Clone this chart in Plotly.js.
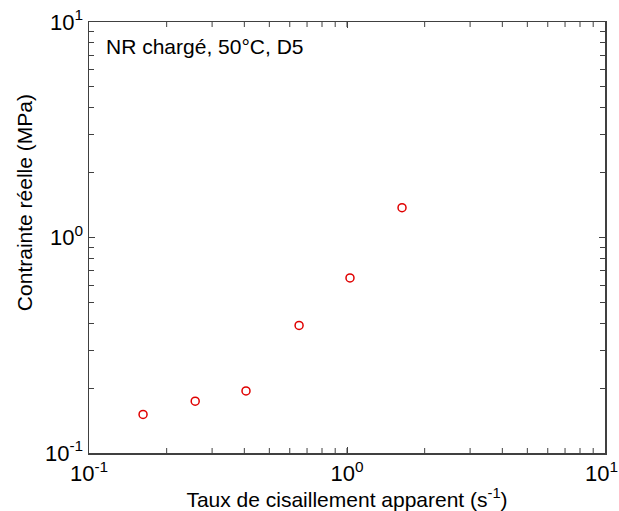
<!DOCTYPE html>
<html><head><meta charset="utf-8">
<script src="https://cdn.plot.ly/plotly-3.0.1.min.js"></script>
<style>body{margin:0;background:#fff;overflow:hidden}#c{width:619px;height:511px}</style>
</head><body><div id="c"></div>
<script>
const shearRate = [0.162, 0.258, 0.406, 0.652, 1.027, 1.634];
const stress = [0.151, 0.174, 0.194, 0.391, 0.649, 1.375];
const decadeVals = [0.1, 1, 10];
const decadeLabels = ['10<sup>-1</sup>', '10<sup>0</sup>', '10<sup>1</sup>'];
const minorMantissas = [2, 3, 4, 5, 6, 7, 8, 9];
const annotationText = 'NR chargé, 50°C, D5';
const xTitle = 'Taux de cisaillement apparent (s<sup>-1</sup>)';
const yTitle = 'Contrainte réelle (MPa)';

function minorVals(){
  const v=[];
  [0.1, 1].forEach(d=>minorMantissas.forEach(m=>v.push(+(m*d).toPrecision(6))));
  return v;
}
const font = {family:'Liberation Sans, Arial, sans-serif', color:'#000'};
const tickColor = '#404040';
function axis(isX){
  return {
    type:'log', showgrid:false, zeroline:false, autorange:false,
    showline:true, linecolor:tickColor, linewidth:1.5, mirror:'ticks',
    ticks:'inside', ticklen:6, tickwidth:1, tickcolor:tickColor,
    tickmode:'array', tickvals:decadeVals.slice(),
    ticktext: isX ? [decadeLabels[0], decadeLabels[1], ''] : decadeLabels.slice(),
    tickangle:0, tickfont:{...font, size:22},
    minor: isX ? {ticks:''} :
      {tickmode:'array', tickvals:minorVals(), ticks:'inside', ticklen:5, tickwidth:1, tickcolor:tickColor, showgrid:false}
  };
}
// x-axis minor ticks drawn as axis-anchored decorations (bottom and top)
const tickShapes = [];
minorVals().concat([1]).forEach(v=>{
  [[0, 5], [1, -5]].forEach(([anchor, len])=>{
    tickShapes.push({type:'line', xref:'x', yref:'paper', ysizemode:'pixel', yanchor:anchor,
      x0:v, x1:v, y0:0, y1:len, line:{color:tickColor, width:1}, layer:'above'});
  });
});
Plotly.newPlot('c', [{
  x: shearRate, y: stress, type:'scatter', mode:'markers',
  marker:{symbol:'circle-open', size:8, color:'#e00000', line:{width:1.5, color:'#e00000'}}
}], {
  width:619, height:511,
  margin:{l:89, r:14, t:22, b:58},
  paper_bgcolor:'#fff', plot_bgcolor:'#fff',
  showlegend:false,
  xaxis:{...axis(true), range:[-1,1],
    title:{text:xTitle, font:{...font, size:21}, standoff:2}},
  yaxis:{...axis(false), range:[-1,1], title:{text:''}},
  shapes: tickShapes,
  annotations:[
    {text:annotationText, xref:'paper', yref:'paper', x:0.03, y:0.975,
     xanchor:'left', yanchor:'top', showarrow:false, font:{...font, size:21}},
    {text:decadeLabels[2], xref:'x', yref:'paper', x:1, y:0, xanchor:'center', yanchor:'top',
     xshift:-4, yshift:-3, showarrow:false, font:{...font, size:22}},
    {text:yTitle, xref:'paper', yref:'paper', x:-0.126, y:0.582, xanchor:'center', yanchor:'middle',
     textangle:-90, showarrow:false, font:{...font, size:21}}
  ]
}, {staticPlot:true});
</script></body></html>
